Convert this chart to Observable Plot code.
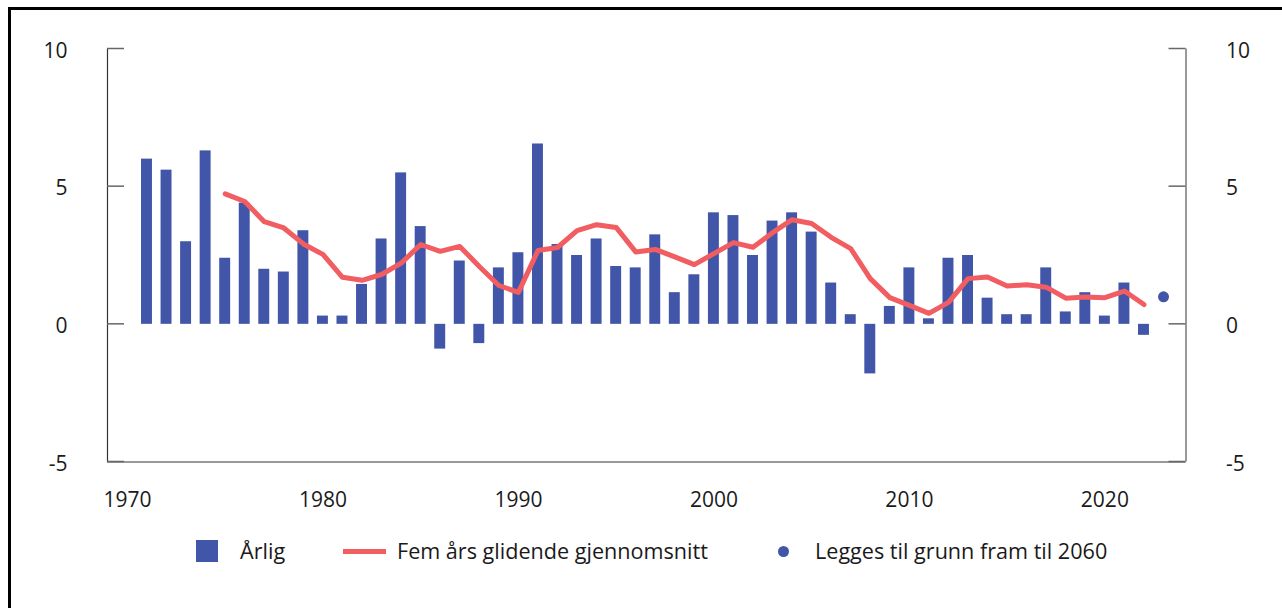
<!DOCTYPE html>
<html>
<head>
<meta charset="utf-8">
<script src="https://cdn.jsdelivr.net/npm/d3@7"></script>
<script src="https://cdn.jsdelivr.net/npm/@observablehq/plot@0.6"></script>
<style>
  html, body { margin: 0; padding: 0; width: 1282px; height: 608px; overflow: hidden; background: #fff; }
  body { position: relative; font-family: "Open Sans", sans-serif; color: #1a1a1a; }
  #frame { position: absolute; left: 8px; top: 7px; width: 1400px; height: 700px; border: 3px solid #000; box-sizing: border-box; }
  #chart { position: absolute; left: 0; top: 0; }
  .leg { position: absolute; font-size: 21.6px; line-height: 22px; white-space: nowrap; }
  .sw-bar { position: absolute; left: 196px; top: 540px; width: 22px; height: 22px; background: #4156a8; }
  .sw-line { position: absolute; left: 343px; top: 549px; width: 43px; height: 5px; background: #f15d60; }
  .sw-dot { position: absolute; left: 778px; top: 546px; width: 11px; height: 11px; border-radius: 50%; background: #4156a8; }
</style>
</head>
<body>
<div id="frame"></div>
<div id="chart"></div>
<div class="sw-bar"></div>
<div class="leg" style="left:240px; top:540px;">Årlig</div>
<div class="sw-line"></div>
<div class="leg" style="left:397px; top:540px;">Fem års glidende gjennomsnitt</div>
<div class="sw-dot"></div>
<div class="leg" style="left:815px; top:540px;">Legges til grunn fram til 2060</div>
<script>
// ---- data ----
const barYears = d3.range(1971, 2023);
const annual = [6.0, 5.6, 3.0, 6.3, 2.4, 4.4, 2.0, 1.9, 3.4, 0.3,
                0.3, 1.45, 3.1, 5.5, 3.55, -0.9, 2.3, -0.7, 2.05, 2.6,
                6.55, 2.9, 2.5, 3.1, 2.1, 2.05, 3.25, 1.15, 1.8, 4.05,
                3.95, 2.5, 3.75, 4.05, 3.35, 1.5, 0.35, -1.8, 0.65, 2.05,
                0.2, 2.4, 2.5, 0.95, 0.35, 0.35, 2.05, 0.45, 1.15, 0.3,
                1.5, -0.4];
const avgYears = d3.range(1975, 2023);
const movingAvg = [4.74, 4.46, 3.73, 3.5, 2.92, 2.54, 1.71, 1.6, 1.81, 2.22,
                   2.9, 2.65, 2.83, 2.1, 1.41, 1.16, 2.68, 2.79, 3.4, 3.62,
                   3.52, 2.63, 2.72, 2.45, 2.17, 2.57, 2.97, 2.8, 3.33, 3.8,
                   3.66, 3.16, 2.75, 1.66, 0.97, 0.69, 0.4, 0.8, 1.66, 1.72,
                   1.39, 1.44, 1.35, 0.95, 0.99, 0.97, 1.21, 0.72];
const dotYears = [2023];
const dotValues = [1.0];
const yTicks = [-5, 0, 5, 10];
const xTicks = [1970, 1980, 1990, 2000, 2010, 2020];
const xDomain = [1968.98, 2024.15];
const yDomain = [-5, 10];

const blue = "#4156a8";
const red = "#f15d60";

const bars = barYears.map((year, i) => ({year, value: annual[i]}));
const avg = avgYears.map((year, i) => ({year, value: movingAvg[i]}));
const dots = dotYears.map((year, i) => ({year, value: dotValues[i]}));
const halfBar = 0.28;

const plot = Plot.plot({
  width: 1282,
  height: 520,
  marginLeft: 107,
  marginRight: 96.5,
  marginTop: 48.5,
  marginBottom: 58.5,
  style: {fontFamily: "Open Sans, sans-serif", fontSize: "21px", color: "#1a1a1a", background: "transparent"},
  x: {domain: xDomain, axis: null},
  y: {domain: yDomain, axis: null},
  marks: [
    Plot.rectY(bars, {x1: d => d.year - halfBar, x2: d => d.year + halfBar, y1: 0, y2: "value", fill: blue}),
    Plot.line(avg, {x: "year", y: "value", stroke: red, strokeWidth: 5, strokeLinejoin: "round", strokeLinecap: "round"}),
    Plot.dot(dots, {x: "year", y: "value", r: 5.5, fill: blue}),
    Plot.ruleX([xDomain[0]], {y1: yDomain[0], y2: yDomain[1], stroke: "#333", strokeWidth: 1.2}),
    Plot.ruleX([xDomain[1]], {y1: yDomain[0], y2: yDomain[1], stroke: "#777", strokeWidth: 1.5}),
    Plot.ruleY([yDomain[0]], {x1: xDomain[0], x2: xDomain[1], stroke: "#777", strokeWidth: 1.5}),
    Plot.axisY({anchor: "left", ticks: yTicks, tickSize: 0, tickPadding: 40, dy: 2, label: null, tickFormat: d => String(d)}),
    Plot.axisY({anchor: "right", ticks: yTicks, tickSize: 0, tickPadding: 40, dy: 2, label: null, tickFormat: d => String(d)}),
    Plot.axisX({anchor: "bottom", ticks: xTicks, tickSize: 0, tickPadding: 30, label: null, tickFormat: d => String(d)})
  ]
});

// inward tick marks drawn from the library scales
const sx = plot.scale("x"), sy = plot.scale("y");
const xl = sx.apply(xDomain[0]), xr = sx.apply(xDomain[1]);
const g = d3.select(plot).append("g").attr("stroke", "#666").attr("stroke-width", 1.5);
yTicks.forEach(t => {
  const y = sy.apply(t);
  g.append("line").attr("x1", xl).attr("x2", xl + 17).attr("y1", y).attr("y2", y);
  g.append("line").attr("x1", xr - 17).attr("x2", xr).attr("y1", y).attr("y2", y);
});

document.getElementById("chart").appendChild(plot);
</script>
</body>
</html>
